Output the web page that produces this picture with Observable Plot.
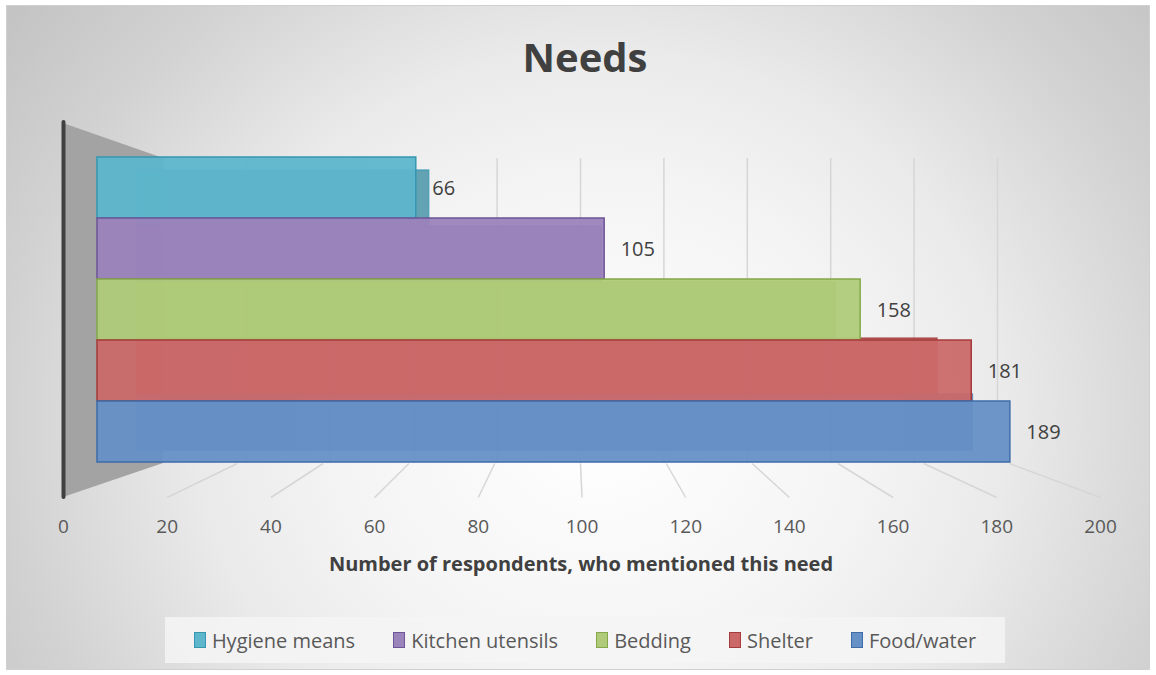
<!DOCTYPE html>
<html>
<head>
<meta charset="utf-8">
<script src="https://cdn.jsdelivr.net/npm/d3@7"></script>
<script src="https://cdn.jsdelivr.net/npm/@observablehq/plot@0.6"></script>
<style>
  html, body { margin: 0; padding: 0; background: #ffffff; }
  #wrap { position: relative; width: 1156px; height: 675px; overflow: hidden; font-family: "Open Sans", sans-serif; }
  #bg { position: absolute; left: 6px; top: 5px; width: 1142px; height: 663px; border: 1px solid #d0d0d0;
        background: radial-gradient(ellipse 700px 640px at 594px 415px, #ffffff 0%, #f4f4f4 38%, #eaeaea 58%, #d2d2d2 85%, #c4c4c4 105%); }
  #wall { position: absolute; left: 0; top: 0; width: 1156px; height: 675px; background: #a3a3a3;
          clip-path: polygon(63px 123px, 163px 158px, 163px 463px, 63px 497px); }
  .layer { position: absolute; left: 0; top: 0; }
  #title { position: absolute; left: 385px; width: 400px; top: 37px; text-align: center; font-size: 40px; line-height: 40px;
           font-weight: 700; color: #404040; }
  #xtitle { position: absolute; left: 231px; width: 700px; top: 554px; text-align: center; font-size: 20px; line-height: 20px;
            font-weight: 700; color: #404040; }
  #legend { position: absolute; left: 165px; top: 617px; width: 840px; height: 46px; background: rgba(244,244,244,0.85);
            display: flex; align-items: center; justify-content: center; gap: 38px; font-size: 20px; color: #595959; }
  .item { display: flex; align-items: center; gap: 6px; }
  .sw { width: 10px; height: 14px; border: 1.5px solid; }
</style>
</head>
<body>
<div id="wrap">
  <div id="bg"></div>
  <div id="wall"></div>
  <div id="title">Needs</div>
  <div id="xtitle">Number of respondents, who mentioned this need</div>
  <div id="legend"></div>
</div>
<script>
// ---- data ----
const categories = ["Hygiene means", "Kitchen utensils", "Bedding", "Shelter", "Food/water"];
const values = [66, 105, 158, 181, 189];
const xTicks = [0, 20, 40, 60, 80, 100, 120, 140, 160, 180, 200];
const xDomain = [0, 200];
const axisTitle = "Number of respondents, who mentioned this need";

// ---- styles ----
const frontFills = ["#5eb6cc", "#9b83bc", "#afcb79", "#cb6969", "#6690c6"];
const backFills  = ["#3f8ea2", "#76609a", "#8eab55", "#a94848", "#4c72a8"];
const strokes    = ["#3597b0", "#6c5497", "#84a848", "#a53b3a", "#3d6ca9"];

const data = categories.map((c, i) => ({category: c, value: values[i], fill: frontFills[i], back: backFills[i], stroke: strokes[i]}));

const W = 1156, H = 675;
const font = "'Open Sans', sans-serif";
const wrap = document.getElementById("wrap");
const before = document.getElementById("title");
function addLayer(svg) { svg.classList.add("layer"); svg.style.position = "absolute"; svg.style.left = "0"; svg.style.top = "0"; wrap.insertBefore(svg, before); }

// back wall gridlines
addLayer(Plot.plot({
  width: W, height: H, marginLeft: 163, marginRight: W - 997, marginTop: 158, marginBottom: H - 463,
  style: {background: "transparent", overflow: "visible"},
  x: {domain: xDomain, axis: null},
  marks: [Plot.ruleX(xTicks, {stroke: "#d6d6d6", strokeWidth: 1.5})]
}));

// floor lines
const floorBack = Plot.scale({x: {domain: xDomain, range: [151, 1009]}});
const floorFront = Plot.scale({x: {domain: xDomain, range: [63, 1100]}});
const toFront = t => floorFront.invert(floorBack.apply(t));
addLayer(Plot.plot({
  width: W, height: H, marginLeft: 63, marginRight: W - 1100, marginTop: 463, marginBottom: H - 497,
  style: {background: "transparent", overflow: "visible"},
  x: {domain: xDomain, axis: null},
  y: {domain: [0, 1], axis: null},
  marks: [Plot.link(xTicks.filter(t => t > 0), {x1: t => toFront(t), y1: () => 1, x2: t => t, y2: () => 0, stroke: "#d6d6d6", strokeWidth: 1.5})]
}));

// axis with tick labels + left axis line
addLayer(Plot.plot({
  width: W, height: H, marginLeft: 63, marginRight: W - 1100, marginTop: 122, marginBottom: H - 497,
  style: {background: "transparent", overflow: "visible", fontSize: "19px", fontFamily: font, color: "#595959"},
  x: {domain: xDomain, ticks: xTicks, tickSize: 0, tickPadding: 22, tickFormat: d => String(d), label: null},
  marks: [Plot.ruleX([0], {stroke: "#404040", strokeWidth: 4, strokeLinecap: "round"})]
}));

// back faces of bars
addLayer(Plot.plot({
  width: W, height: H, marginLeft: 137, marginRight: W - 1021, marginTop: 168, marginBottom: H - 452,
  style: {background: "transparent", overflow: "visible"},
  x: {domain: xDomain, axis: null},
  y: {domain: categories, axis: null, padding: 0},
  color: {type: "identity"},
  marks: [Plot.barX(data, {x: "value", y: "category", fill: "back", fillOpacity: 0.8, stroke: "stroke", strokeOpacity: 0.7, strokeWidth: 1.5})]
}));

// front faces of bars + labels
addLayer(Plot.plot({
  width: W, height: H, marginLeft: 97, marginRight: W - 1063, marginTop: 155, marginBottom: H - 464,
  style: {background: "transparent", overflow: "visible", fontFamily: font},
  x: {domain: xDomain, axis: null},
  y: {domain: categories, axis: null, padding: 0},
  color: {type: "identity"},
  marks: [
    Plot.barX(data, {x: "value", y: "category", fill: "fill", fillOpacity: 0.95, stroke: "stroke", strokeWidth: 1.5}),
    Plot.text(data, {x: "value", y: "category", text: d => String(d.value), dx: 16, dy: 1, textAnchor: "start", fontSize: 20, fill: "#404040"})
  ]
}));

// legend
const legend = document.getElementById("legend");
data.forEach(d => {
  const it = document.createElement("div"); it.className = "item";
  const sw = document.createElement("div"); sw.className = "sw"; sw.style.background = d.fill; sw.style.borderColor = d.stroke;
  const tx = document.createElement("span"); tx.textContent = d.category;
  it.appendChild(sw); it.appendChild(tx); legend.appendChild(it);
});
document.getElementById("xtitle").textContent = axisTitle;
</script>
</body>
</html>
